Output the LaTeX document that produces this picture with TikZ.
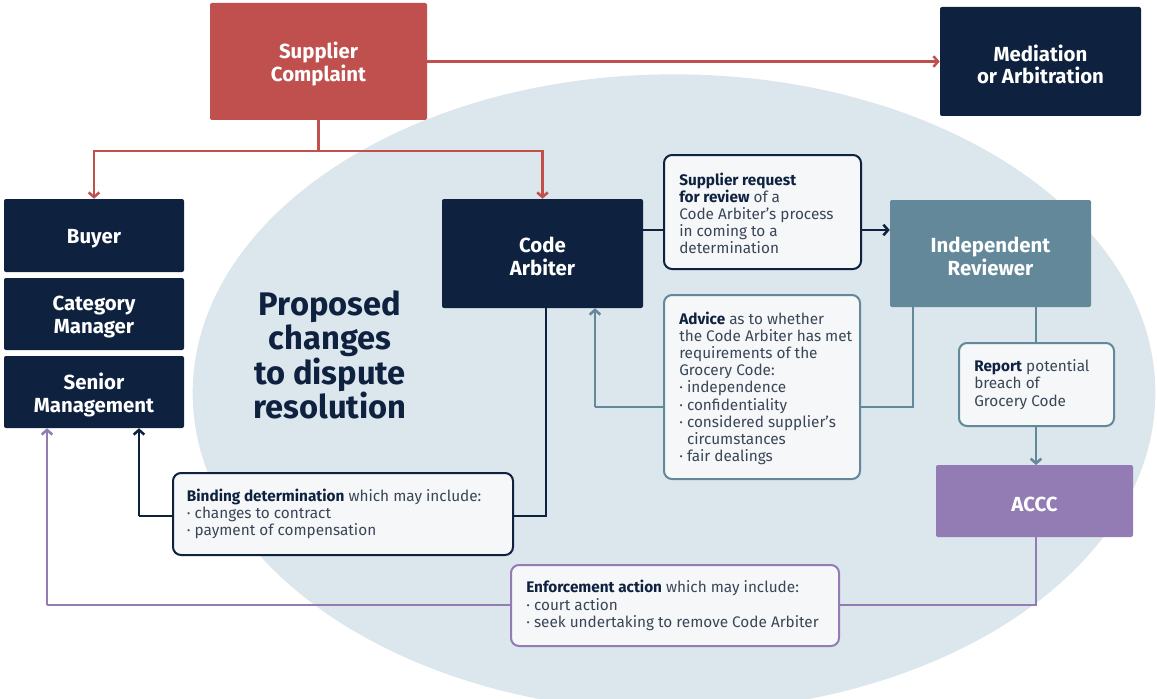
\documentclass[tikz,border=0pt]{standalone}
\usepackage{fontspec}
\setmainfont{Fira Sans}
\usetikzlibrary{arrows.meta}
\definecolor{cNavy}{HTML}{0E2240}
\definecolor{cRed}{HTML}{C0504D}
\definecolor{cTeal}{HTML}{62889A}
\definecolor{cPurple}{HTML}{937BB3}
\definecolor{cEll}{HTML}{DCE6ED}
\definecolor{cLab}{HTML}{F5F7F9}
\definecolor{cTxt}{HTML}{3A4656}
\begin{document}
\begin{tikzpicture}[x=0.75pt,y=-0.75pt,
  box/.style={rectangle, rounded corners=1.5pt, inner sep=0pt},
  boxtxt/.style={inner sep=0pt, text=white, yshift=-2.2pt,
    font=\bfseries\fontsize{15.3}{17.2}\selectfont, align=center},
  navybox/.style={box, fill=cNavy},
  lab/.style={rectangle, rounded corners=6pt, fill=cLab, line width=1.5pt, inner sep=0pt},
  labtxt/.style={anchor=west, inner sep=0pt, align=left, text=cTxt,
    font=\fontsize{11.5}{12.9}\selectfont},
  conn/.style={line width=1.9pt},
  arr/.style={conn, -{Straight Barb[length=3.5pt,width=8pt]}}
]
\useasboundingbox (0,0) rectangle (1157,699);
\begin{scope}
\clip (0,0) rectangle (1157,699);
\fill[cEll] (674,393) ellipse [x radius=361pt, y radius=239pt];
\end{scope}

% main boxes
\node[box, fill=cRed, minimum width=162.75pt, minimum height=87.75pt, label={[boxtxt]center:{Supplier\\Complaint}}] (sc) at (318.5,61.5) {};
\node[navybox, minimum width=150.75pt, minimum height=81.75pt, label={[boxtxt]center:{Mediation\\or Arbitration}}] (med) at (1040.5,61.5) {};
\node[navybox, minimum width=135pt, minimum height=54.75pt, label={[boxtxt]center:{Buyer}}] (buyer) at (94,235.5) {};
\node[navybox, minimum width=135pt, minimum height=54pt, label={[boxtxt]center:{Category\\Manager}}] (cat) at (94,314) {};
\node[navybox, minimum width=135pt, minimum height=54pt, label={[boxtxt]center:{Senior\\Management}}] (sen) at (94,392) {};
\node[navybox, minimum width=150.75pt, minimum height=81.75pt, label={[boxtxt]center:{Code\\Arbiter}}] (ca) at (542.5,253.5) {};
\node[box, fill=cTeal, minimum width=150.75pt, minimum height=80.25pt, label={[boxtxt]center:{Independent\\Reviewer}}] (ir) at (990.5,253.5) {};
\node[box, fill=cPurple, minimum width=147.75pt, minimum height=54pt, label={[boxtxt]center:{ACCC}}] (accc) at (1034.5,501) {};

\node[font=\bfseries\fontsize{24.5}{25.7}\selectfont, text=cNavy, align=center] (title) at (330,355) {Proposed\\changes\\to dispute\\resolution};

% helper coordinates
\coordinate (j) at (318.5,151);
\coordinate (rq) at (0,230);
\coordinate (a1) at (913,407);
\coordinate (a2) at (595,407);
\coordinate (p1) at (1036,605);
\coordinate (p2) at (47,605);
\coordinate (b1) at (546,516);
\coordinate (b2) at (139,516);

% connectors
\draw[conn, cRed] (sc.south) -- (j);
\draw[arr, cRed] (j) -| (buyer.north);
\draw[arr, cRed] (j) -| (ca.north);
\draw[arr, cRed] (sc.east) -- (med.west);

\draw[conn, cNavy] (ca.east |- rq) -- (762,230);
\draw[arr, cNavy] (762,230) -- (ir.west |- rq);

\draw[conn, cTeal] (ir.south -| a1) -- (a1) -- (a2);
\draw[arr, cTeal] (a2) -- (ca.south -| a2);
\draw[conn, cTeal] (ir.south -| 1036,0) -- (1036,400);
\draw[arr, cTeal] (1036,400) -- (1036,465);

\draw[conn, cPurple] (accc.south -| p1) -- (p1) -- (p2);
\draw[arr, cPurple] (p2) -- (sen.south -| p2);

\draw[conn, cNavy] (ca.south -| b1) -- (b1) -- (b2);
\draw[arr, cNavy] (b2) -- (sen.south -| b2);

% label boxes
\node[lab, draw=cNavy, minimum width=147.75pt, minimum height=85.5pt] (req) at (762.5,212) {};
\node[labtxt] at ([xshift=12pt,yshift=-1pt]req.west) {\textcolor{cNavy}{\bfseries Supplier request}\\\textcolor{cNavy}{\bfseries for review} of a\\Code Arbiter’s process\\in coming to a\\determination};

\node[lab, draw=cTeal, minimum width=147pt, minimum height=138pt] (adv) at (762,387) {};
\node[labtxt] at ([xshift=12pt,yshift=-1pt]adv.west) {\textcolor{cNavy}{\bfseries Advice} as to whether\\the Code Arbiter has met\\requirements of the\\Grocery Code:\\· independence\\· confidentiality\\· considered supplier’s\\\hphantom{·~}circumstances\\· fair dealings};

\node[lab, draw=cTeal, minimum width=116.25pt, minimum height=62.25pt] (rep) at (1036.5,384.5) {};
\node[labtxt] at ([xshift=12pt]rep.west) {\textcolor{cNavy}{\bfseries Report} potential\\breach of\\Grocery Code};

\node[lab, draw=cNavy, minimum width=255pt, minimum height=61.5pt] (bind) at (343,514) {};
\node[labtxt] at ([xshift=11pt]bind.west) {\textcolor{cNavy}{\bfseries Binding determination} which may include:\\· changes to contract\\· payment of compensation};

\node[lab, draw=cPurple, minimum width=246pt, minimum height=60.75pt] (enf) at (675,605.5) {};
\node[labtxt] at ([xshift=12pt]enf.west) {\textcolor{cNavy}{\bfseries Enforcement action} which may include:\\· court action\\· seek undertaking to remove Code Arbiter};
\end{tikzpicture}
\end{document}
